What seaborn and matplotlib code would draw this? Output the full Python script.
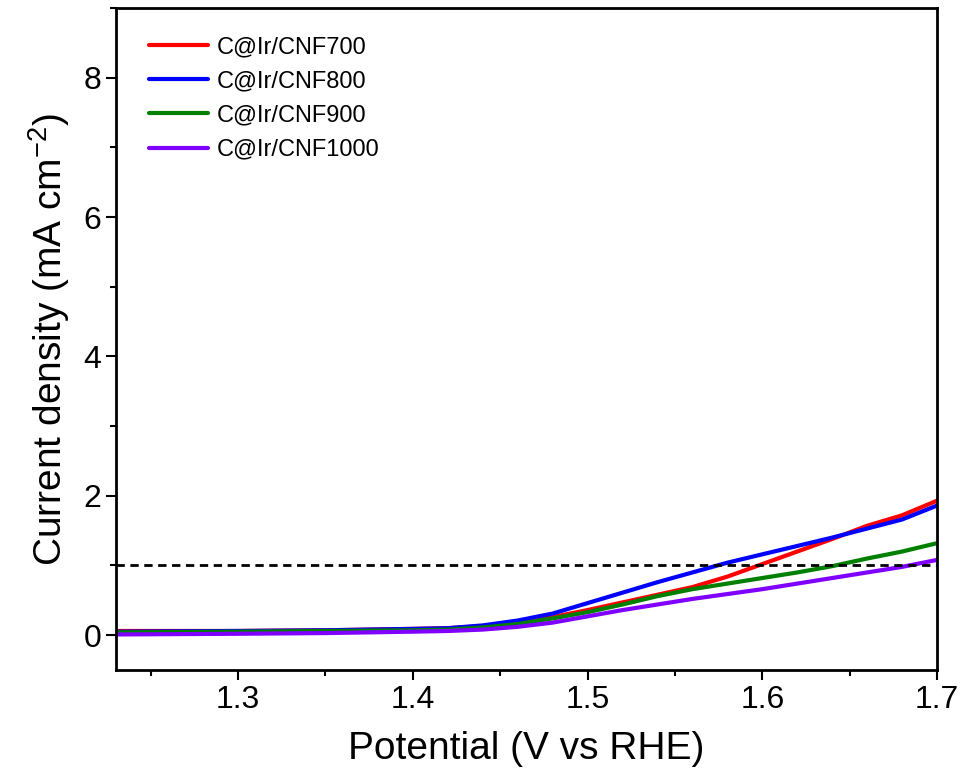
import matplotlib
matplotlib.use('Agg')
import matplotlib.pyplot as plt
import seaborn as sns
import pandas as pd
from matplotlib.ticker import MultipleLocator

# potential (V vs RHE) and current density (mA cm-2)
potential = [1.23, 1.30, 1.35, 1.40, 1.42, 1.44, 1.46, 1.48, 1.50, 1.52,
             1.54, 1.56, 1.58, 1.60, 1.62, 1.64, 1.66, 1.68, 1.70]
j_700 = [0.06, 0.06, 0.07, 0.09, 0.10, 0.13, 0.18, 0.26, 0.36, 0.47,
         0.58, 0.69, 0.84, 1.02, 1.20, 1.38, 1.57, 1.72, 1.93]
j_800 = [0.05, 0.06, 0.07, 0.09, 0.10, 0.14, 0.21, 0.31, 0.46, 0.61,
         0.76, 0.90, 1.04, 1.16, 1.28, 1.40, 1.53, 1.66, 1.86]
j_900 = [0.04, 0.05, 0.06, 0.07, 0.08, 0.11, 0.16, 0.24, 0.33, 0.44,
         0.56, 0.66, 0.74, 0.82, 0.90, 0.99, 1.10, 1.20, 1.32]
j_1000 = [0.01, 0.02, 0.03, 0.05, 0.06, 0.08, 0.12, 0.18, 0.27, 0.36,
          0.44, 0.52, 0.59, 0.66, 0.74, 0.82, 0.90, 0.98, 1.08]
samples = ['C@Ir/CNF700', 'C@Ir/CNF800', 'C@Ir/CNF900', 'C@Ir/CNF1000']
colors = ['#ff0000', '#0000ff', '#008000', '#8000ff']

frames = []
for name, vals in zip(samples, [j_700, j_800, j_900, j_1000]):
    frames.append(pd.DataFrame({'E': potential, 'j': vals, 'sample': name}))
df = pd.concat(frames, ignore_index=True)

sns.set_style('ticks')
plt.rcParams['font.family'] = ['Liberation Sans', 'DejaVu Sans']
plt.rcParams['text.color'] = 'black'
plt.rcParams['axes.labelcolor'] = 'black'
plt.rcParams['xtick.color'] = 'black'
plt.rcParams['ytick.color'] = 'black'
plt.rcParams['axes.edgecolor'] = 'black'

fig = plt.figure(figsize=(9.65, 7.76), dpi=100)
ax = fig.add_axes([0.120, 0.1366, 0.851, 0.853])

sns.lineplot(data=df, x='E', y='j', hue='sample', palette=colors,
             hue_order=samples, linewidth=3, ax=ax)
ax.axhline(1.0, color='black', linestyle=(0, (3, 2)), linewidth=2)

ax.set_xlim(1.23, 1.70)
ax.set_ylim(-0.5, 9)
ax.xaxis.set_major_locator(MultipleLocator(0.1))
ax.xaxis.set_minor_locator(MultipleLocator(0.05))
ax.yaxis.set_major_locator(MultipleLocator(2))
ax.yaxis.set_minor_locator(MultipleLocator(1))
ax.tick_params(which='major', direction='out', length=7, width=1.5, labelsize=23)
ax.tick_params(which='minor', direction='out', length=4, width=1.5)
for s in ax.spines.values():
    s.set_linewidth(2)

ax.set_xlabel('Potential (V vs RHE)', fontsize=28, labelpad=12)
ax.set_ylabel('Current density (mA cm$^{\\mathregular{-2}}$)', fontsize=28, labelpad=8)

ax.legend(loc='upper left', frameon=False, fontsize=17, handlelength=2.5,
          handletextpad=0.35, labelspacing=0.52, bbox_to_anchor=(0.015, 0.99))

fig.savefig('out.png', dpi=100)
